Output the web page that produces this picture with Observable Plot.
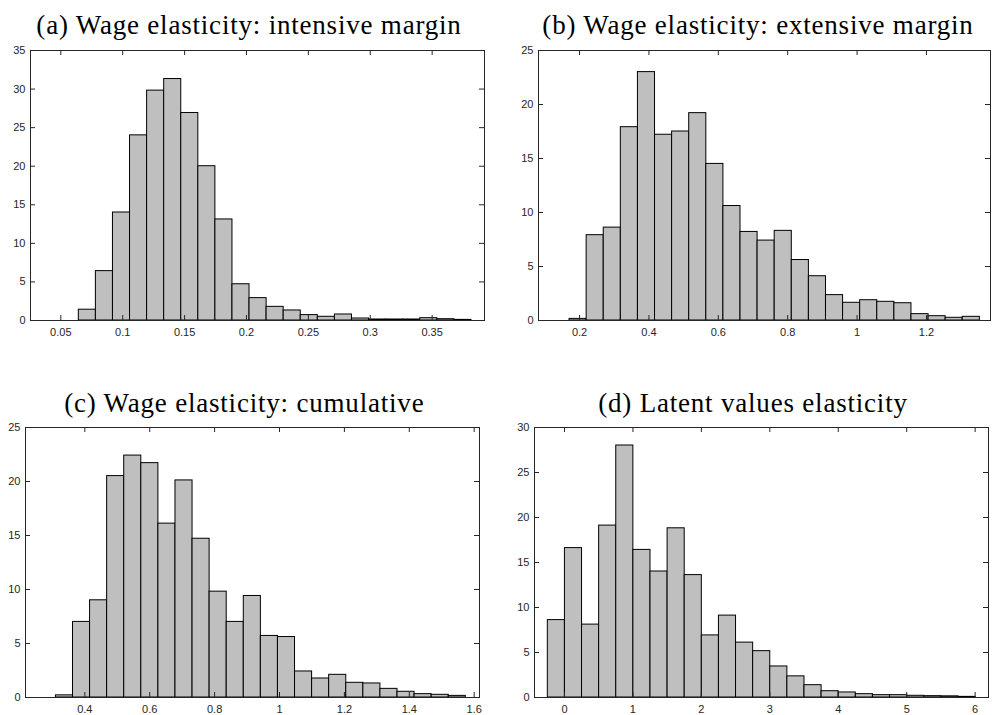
<!DOCTYPE html>
<html>
<head>
<meta charset="utf-8">
<script src="https://cdn.jsdelivr.net/npm/d3@7"></script>
<script src="https://cdn.jsdelivr.net/npm/@observablehq/plot@0.6"></script>
<style>
  html, body { margin: 0; padding: 0; background: #fff; }
  #fig { position: relative; width: 992px; height: 715px; overflow: hidden; background: #fff; }
  #fig > svg, #fig > figure { position: absolute; margin: 0; }
  .title { font-family: "Liberation Serif", "Times New Roman", serif; font-size: 27px; fill: #000; letter-spacing: 0.8px; }
</style>
</head>
<body>
<div id="fig"></div>
<script>
// Histogram heights, 25 equal-width bins per panel
const intensiveHeights = [0, 0, 1.4, 6.4, 14.0, 24.0, 29.8, 31.3, 26.9, 20.0, 13.1, 4.7, 2.9, 1.77, 1.3, 0.7, 0.48, 0.78, 0.26, 0.13, 0.13, 0.13, 0.3, 0.17, 0.08];
const intensiveBins = [0.03695, 0.013793];   // first edge, bin width

const extensiveHeights = [0, 0.15, 7.9, 8.6, 17.9, 23.0, 17.2, 17.5, 19.2, 14.5, 10.6, 8.2, 7.4, 8.3, 5.6, 4.1, 2.35, 1.64, 1.88, 1.73, 1.6, 0.59, 0.4, 0.25, 0.34];
const extensiveBins = [0.1219, 0.04928];

const cumulativeHeights = [0, 0.2, 7.0, 9.0, 20.5, 22.4, 21.7, 16.1, 20.1, 14.7, 9.8, 7.0, 9.4, 5.7, 5.6, 2.41, 1.76, 2.1, 1.36, 1.3, 0.8, 0.53, 0.31, 0.25, 0.15];
const cumulativeBins = [0.2582, 0.05264];

const latentHeights = [8.6, 16.6, 8.1, 19.1, 28.0, 16.4, 14.0, 18.8, 13.6, 6.9, 9.1, 6.1, 5.15, 3.45, 2.35, 1.37, 0.7, 0.56, 0.37, 0.26, 0.26, 0.19, 0.15, 0.13, 0.07];
const latentBins = [-0.2435, 0.25];

// Axis limits and tick values
const intensiveX = [0.0255, 0.3923];
const intensiveXTicks = [0.05, 0.1, 0.15, 0.2, 0.25, 0.3, 0.35];
const intensiveYTicks = [0, 5, 10, 15, 20, 25, 30, 35];

const extensiveX = [0.0817, 1.3846];
const extensiveXTicks = [0.2, 0.4, 0.6, 0.8, 1, 1.2];
const extensiveYTicks = [0, 5, 10, 15, 20, 25];

const cumulativeX = [0.2171, 1.6164];
const cumulativeXTicks = [0.4, 0.6, 0.8, 1, 1.2, 1.4, 1.6];
const cumulativeYTicks = [0, 5, 10, 15, 20, 25];

const latentX = [-0.438, 6.195];
const latentXTicks = [0, 1, 2, 3, 4, 5, 6];
const latentYTicks = [0, 5, 10, 15, 20, 25, 30];

const titles = [
  "(a) Wage elasticity: intensive margin",
  "(b) Wage elasticity: extensive margin",
  "(c) Wage elasticity: cumulative",
  "(d) Latent values elasticity"
];

const axisColor = "#262626";
const tickLen = 5;
const fig = document.getElementById("fig");

function histogramPanel({heights, bins, xDomain, xTicks, yTicks, left, top, width, height, margin}) {
  const [start, step] = bins;
  const data = heights.map((v, i) => ({x1: start + i * step, x2: start + (i + 1) * step, y: v}));
  const [mt, mr, mb, ml] = margin;
  const innerW = width - ml - mr;
  const innerH = height - mt - mb;
  const yMax = yTicks[yTicks.length - 1];
  const chart = Plot.plot({
    width, height,
    marginTop: mt, marginRight: mr, marginBottom: mb, marginLeft: ml,
    x: {domain: xDomain},
    y: {domain: [0, yMax]},
    style: {fontFamily: "'Liberation Sans', Arial, sans-serif", fontSize: "11px", color: axisColor, background: "transparent", overflow: "visible"},
    marks: [
      Plot.rectY(data, {x1: "x1", x2: "x2", y: "y", fill: "#bfbfbf", stroke: "#000", strokeWidth: 1}),
      Plot.frame({stroke: axisColor, strokeWidth: 1}),
      // inward ticks on all four sides
      Plot.ruleX(xTicks, {stroke: axisColor, insetTop: innerH - tickLen}),
      Plot.ruleX(xTicks, {stroke: axisColor, insetBottom: innerH - tickLen}),
      Plot.ruleY(yTicks, {stroke: axisColor, insetRight: innerW - tickLen}),
      Plot.ruleY(yTicks, {stroke: axisColor, insetLeft: innerW - tickLen}),
      Plot.axisX({ticks: xTicks, tickSize: 0, tickPadding: 8, tickFormat: d => String(d), label: null, fill: axisColor}),
      Plot.axisY({ticks: yTicks, tickSize: 0, tickPadding: 5, tickFormat: d => String(d), label: null, fill: axisColor})
    ]
  });
  chart.style.left = left + "px";
  chart.style.top = top + "px";
  fig.appendChild(chart);
}

histogramPanel({heights: intensiveHeights, bins: intensiveBins, xDomain: intensiveX, xTicks: intensiveXTicks, yTicks: intensiveYTicks,
  left: 0, top: 0, width: 496, height: 357, margin: [50, 12, 37, 30]});
histogramPanel({heights: extensiveHeights, bins: extensiveBins, xDomain: extensiveX, xTicks: extensiveXTicks, yTicks: extensiveYTicks,
  left: 496, top: 0, width: 496, height: 357, margin: [50, 2, 37, 42]});
histogramPanel({heights: cumulativeHeights, bins: cumulativeBins, xDomain: cumulativeX, xTicks: cumulativeXTicks, yTicks: cumulativeYTicks,
  left: 0, top: 357, width: 496, height: 358, margin: [70, 17, 18, 25]});
histogramPanel({heights: latentHeights, bins: latentBins, xDomain: latentX, xTicks: latentXTicks, yTicks: latentYTicks,
  left: 496, top: 357, width: 496, height: 358, margin: [70, 4, 18, 38]});

// Panel titles
const titlePos = [[249, 34.3], [758, 34.3], [244.3, 412.3], [753, 411.7]];
const overlay = d3.select(fig).append("svg")
  .attr("width", 992).attr("height", 715)
  .style("left", "0px").style("top", "0px").style("pointer-events", "none");
overlay.selectAll("text").data(titles).join("text")
  .attr("class", "title")
  .attr("text-anchor", "middle")
  .attr("x", (d, i) => titlePos[i][0])
  .attr("y", (d, i) => titlePos[i][1])
  .text(d => d);
</script>
</body>
</html>
